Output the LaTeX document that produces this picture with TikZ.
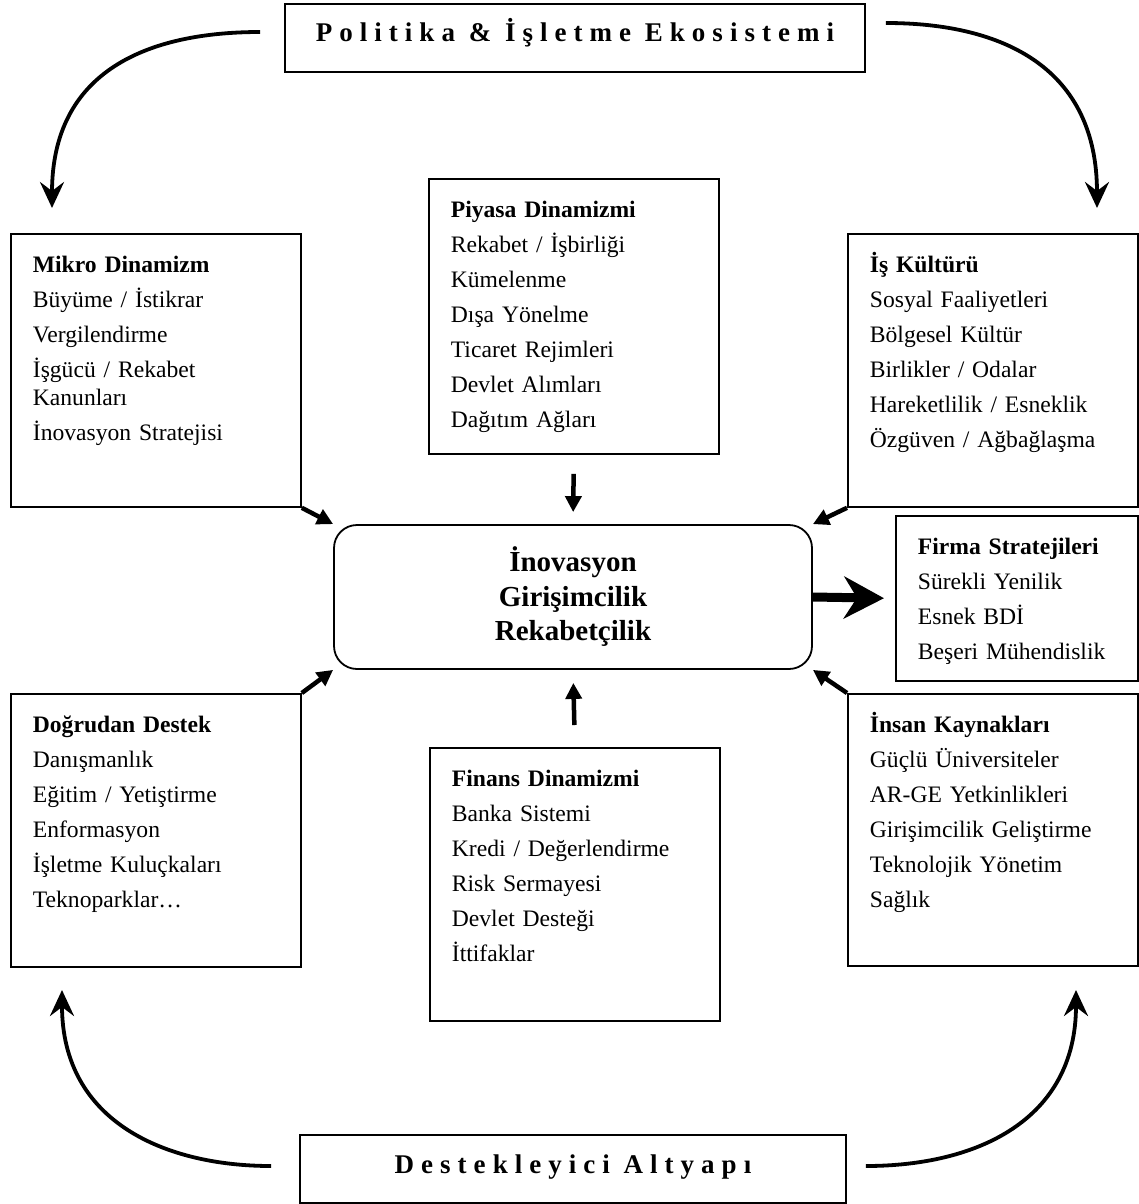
\documentclass[tikz,border=0pt]{standalone}
\usepackage{fontspec}
\setmainfont{Liberation Serif}
\usepackage{tikz}
\usetikzlibrary{arrows.meta}

\begin{document}
\begin{tikzpicture}[
  x=1pt,y=-1pt,
  box/.style={draw,line width=1.8pt,anchor=north west,align=left,text width=246pt,inner xsep=22pt,inner ysep=0pt,text height=39pt,text depth=234pt,font=\fontsize{23.6}{28}\selectfont},
  banner/.style={draw,line width=1.8pt,minimum height=68pt,text height=24pt,text depth=16pt,font=\fontsize{27}{32}\selectfont\bfseries\addfontfeature{LetterSpace=26}},
  core/.style={draw,line width=1.8pt,rounded corners=23pt,align=center,minimum width=478pt,minimum height=144pt,font=\fontsize{29}{34.5}\selectfont\bfseries},
  arr/.style={-{Triangle[length=16pt,width=16pt]},line width=4.5pt},
  bigarr/.style={-{Stealth[length=40pt,width=42pt,inset=13pt]},line width=9pt},
  curv/.style={-{Stealth[length=26pt,width=24pt,inset=9pt]},line width=3.8pt}
]
\useasboundingbox (0,0) rectangle (1138,1204);
\node[banner,minimum width=580pt] (politika) at (575,38) {Politika \& İşletme Ekosistemi};
\node[banner,minimum width=546pt] (destek) at (573,1169) {Destekleyici Altyapı};
\node[core] (core) at (573,597) {İnovasyon\\Girişimcilik\\Rekabetçilik};
\node[box] (mikro) at (10,233) {\textbf{Mikro Dinamizm}\\[7pt]Büyüme / İstikrar\\[7pt]Vergilendirme\\[7pt]İşgücü / Rekabet\\Kanunları\\[7pt]İnovasyon Stratejisi};
\node[box,text depth=236pt] (piyasa) at (428,178) {\textbf{Piyasa Dinamizmi}\\[7pt]Rekabet / İşbirliği\\[7pt]Kümelenme\\[7pt]Dışa Yönelme\\[7pt]Ticaret Rejimleri\\[7pt]Devlet Alımları\\[7pt]Dağıtım Ağları};
\node[box] (kultur) at (847,233) {\textbf{İş Kültürü}\\[7pt]Sosyal Faaliyetleri\\[7pt]Bölgesel Kültür\\[7pt]Birlikler / Odalar\\[7pt]Hareketlilik / Esneklik\\[7pt]Özgüven / Ağbağlaşma};
\node[box,text width=198pt,text depth=126pt] (firma) at (895,515) {\textbf{Firma Stratejileri}\\[7pt]Sürekli Yenilik\\[7pt]Esnek BDİ\\[7pt]Beşeri Mühendislik};
\node[box] (dogrudan) at (10,693) {\textbf{Doğrudan Destek}\\[7pt]Danışmanlık\\[7pt]Eğitim / Yetiştirme\\[7pt]Enformasyon\\[7pt]İşletme Kuluçkaları\\[7pt]Teknoparklar…};
\node[box] (finans) at (429,747) {\textbf{Finans Dinamizmi}\\[7pt]Banka Sistemi\\[7pt]Kredi / Değerlendirme\\[7pt]Risk Sermayesi\\[7pt]Devlet Desteği\\[7pt]İttifaklar};
\node[box,text depth=233pt] (insan) at (847,693) {\textbf{İnsan Kaynakları}\\[7pt]Güçlü Üniversiteler\\[7pt]AR-GE Yetkinlikleri\\[7pt]Girişimcilik Geliştirme\\[7pt]Teknolojik Yönetim\\[7pt]Sağlık};
\coordinate (tipnw) at (52,208);
\coordinate (tipne) at (1097,208);
\coordinate (tipsw) at (62,990);
\coordinate (tipse) at (1076,990);
\draw[arr] (mikro.south east) -- (core.north west);
\draw[arr] (kultur.south west) -- (core.north east);
\draw[arr] (dogrudan.north east) -- (core.south west);
\draw[arr] (insan.north west) -- (core.south east);
\draw[arr,shorten <=19pt,shorten >=12pt] (piyasa.south) -- (core.north);
\draw[arr,shorten <=22pt,shorten >=13pt] (finans.north) -- (core.south);
\draw[bigarr,shorten >=11pt] (core.east) -- (firma.west);
\draw[curv,shorten <=24pt] ([yshift=6pt]politika.west) to[out=180,in=90,looseness=1.2] (tipnw);
\draw[curv,shorten <=20pt] ([yshift=15pt]politika.east) to[out=0,in=90,looseness=1.2] (tipne);
\draw[curv,shorten <=28pt] ([yshift=3pt]destek.west) to[out=180,in=-90,looseness=1.15] (tipsw);
\draw[curv,shorten <=19pt] ([yshift=3pt]destek.east) to[out=0,in=-90,looseness=1.15] (tipse);
\end{tikzpicture}
\end{document}
